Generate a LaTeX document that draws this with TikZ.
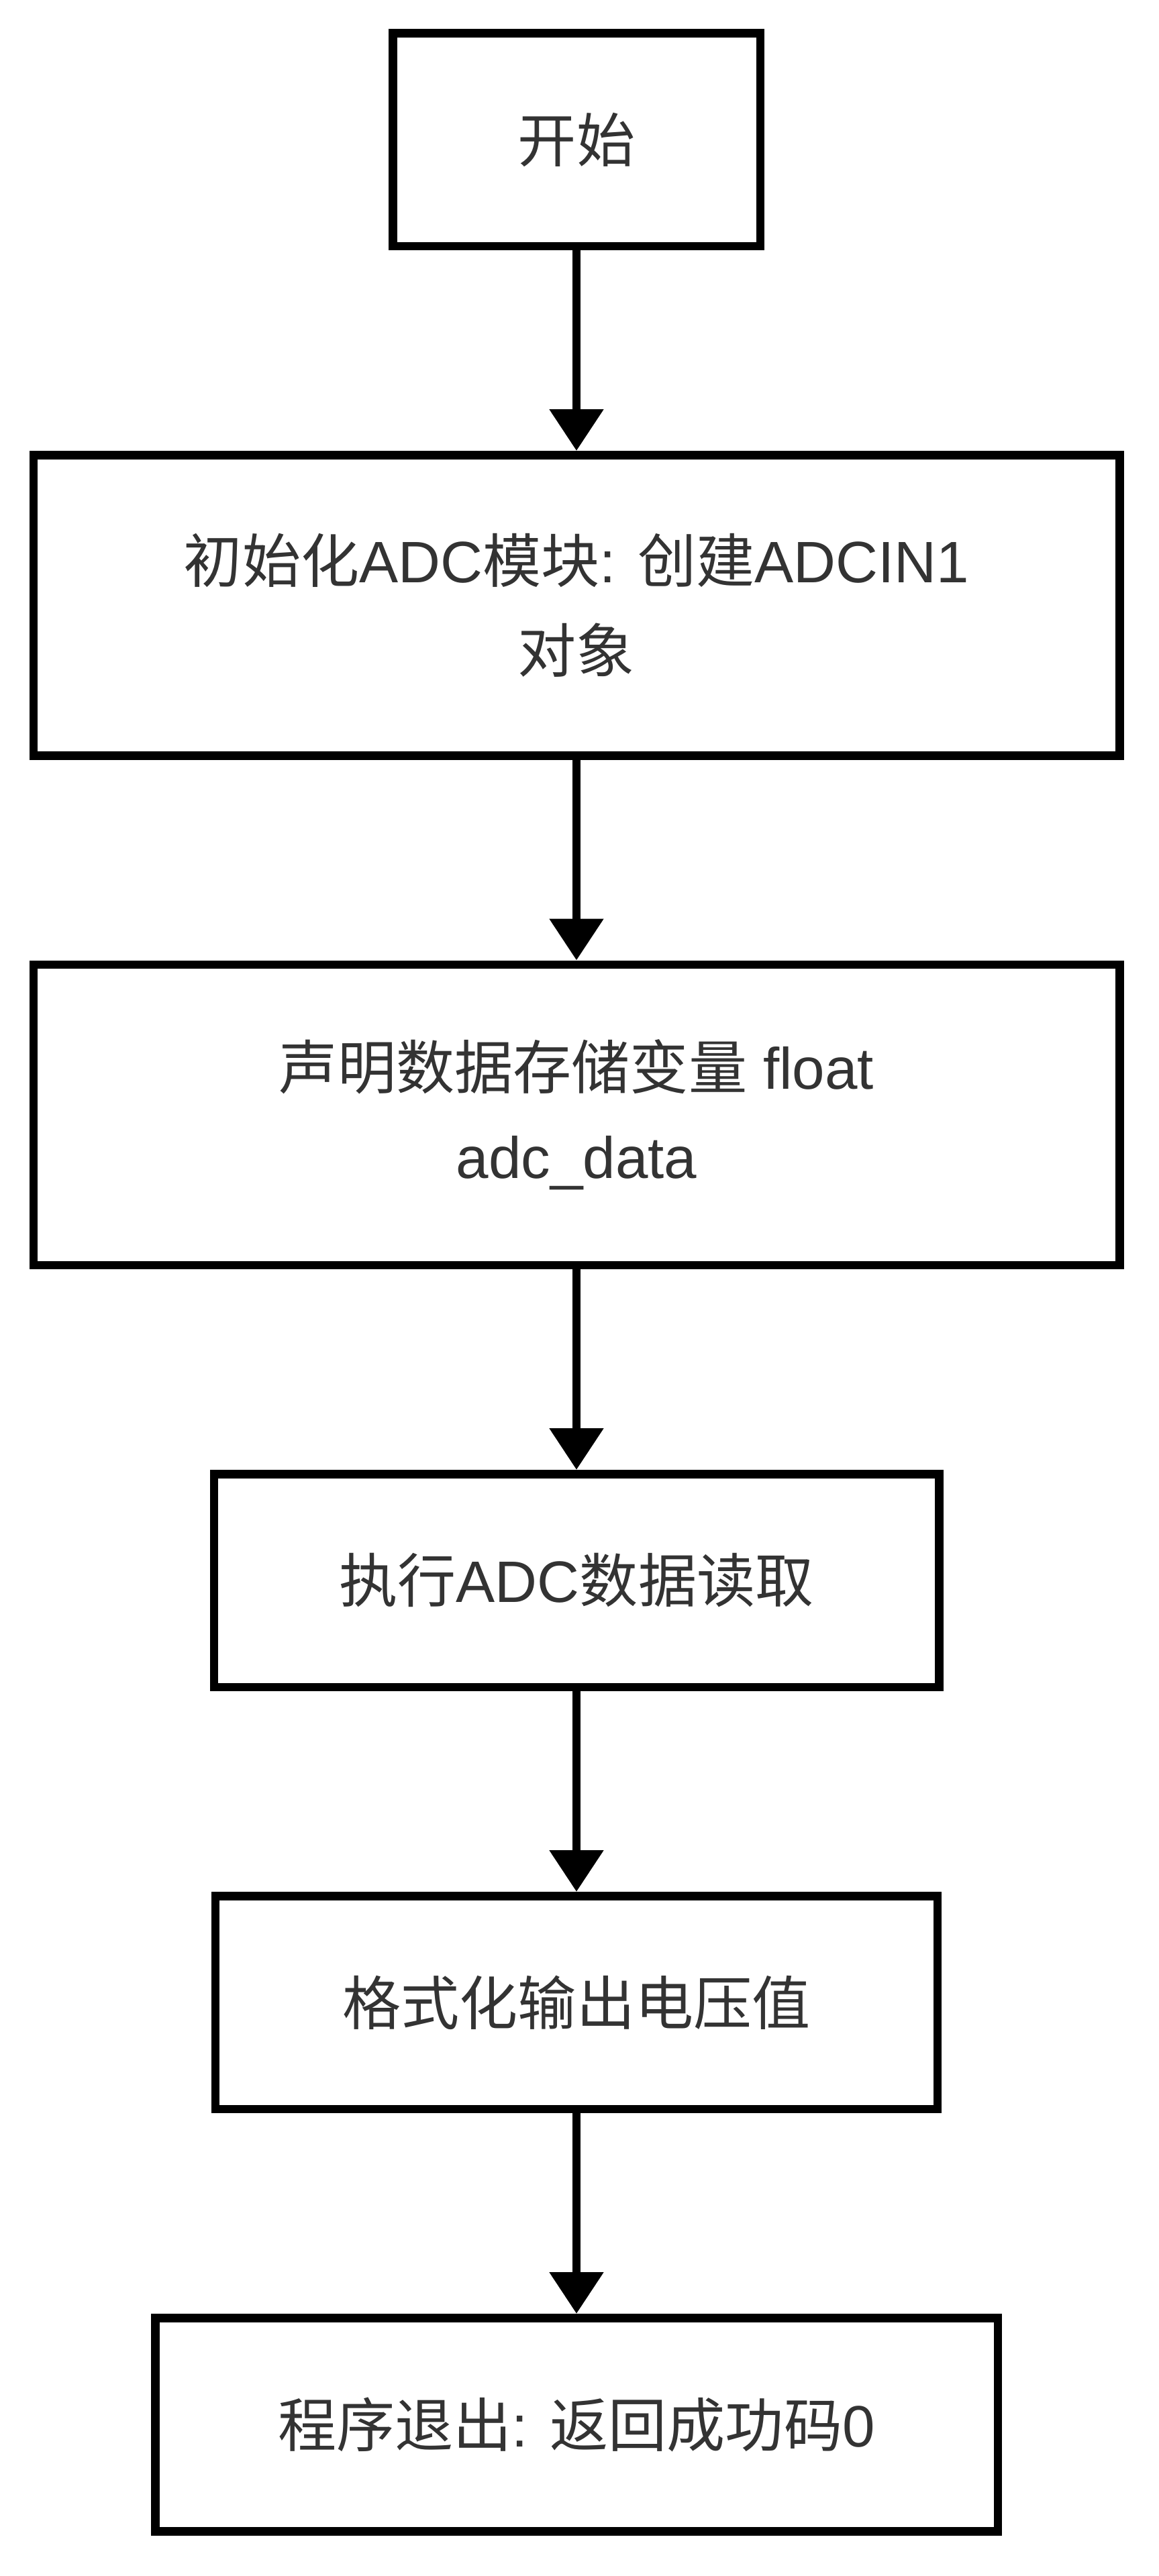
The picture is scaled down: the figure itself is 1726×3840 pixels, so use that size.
\documentclass[tikz,border=0pt]{standalone}
\usepackage{fontspec}
\setmainfont{Liberation Sans}
\newfontfamily\cjk{Noto Sans CJK SC}
\newcommand{\zh}[1]{{\cjk #1}}
\usetikzlibrary{arrows.meta,positioning}

\begin{document}
\begin{tikzpicture}[x=0.1mm, y=-0.1mm,
    box/.style={draw, line width=1.25mm, text=black!80, align=center, inner sep=0pt,
      font=\fontsize{24.8pt}{38pt}\selectfont},
    flow/.style={-{Triangle[length=6.2mm, width=7.8mm]}, line width=1.25mm},
    node distance=29.9mm]
  \useasboundingbox (0,0) rectangle (1726,3840);

  % Steps, top to bottom
  \node[box, minimum width=54.75mm, minimum height=31.75mm] (start) at (859,208) {\zh{开始}};
  \node[box, minimum width=161.85mm, minimum height=44.8mm, below=of start] (init)
    {\zh{初始化}ADC\zh{模块}: \zh{创建}ADCIN1\\\zh{对象}};
  \node[box, minimum width=161.85mm, minimum height=44.8mm, below=of init] (decl)
    {\zh{声明数据存储变量} float\\adc\_data};
  \node[box, minimum width=108.05mm, minimum height=31.75mm, below=of decl] (read)
    {\zh{执行}ADC\zh{数据读取}};
  \node[box, minimum width=107.6mm, minimum height=31.75mm, below=of read] (fmt)
    {\zh{格式化输出电压值}};
  \node[box, minimum width=125.55mm, minimum height=31.8mm, below=of fmt] (exit)
    {\zh{程序退出}: \zh{返回成功码}0};

  % Connectors
  \draw[flow] (start) -- (init);
  \draw[flow] (init) -- (decl);
  \draw[flow] (decl) -- (read);
  \draw[flow] (read) -- (fmt);
  \draw[flow] (fmt) -- (exit);
\end{tikzpicture}
\end{document}
